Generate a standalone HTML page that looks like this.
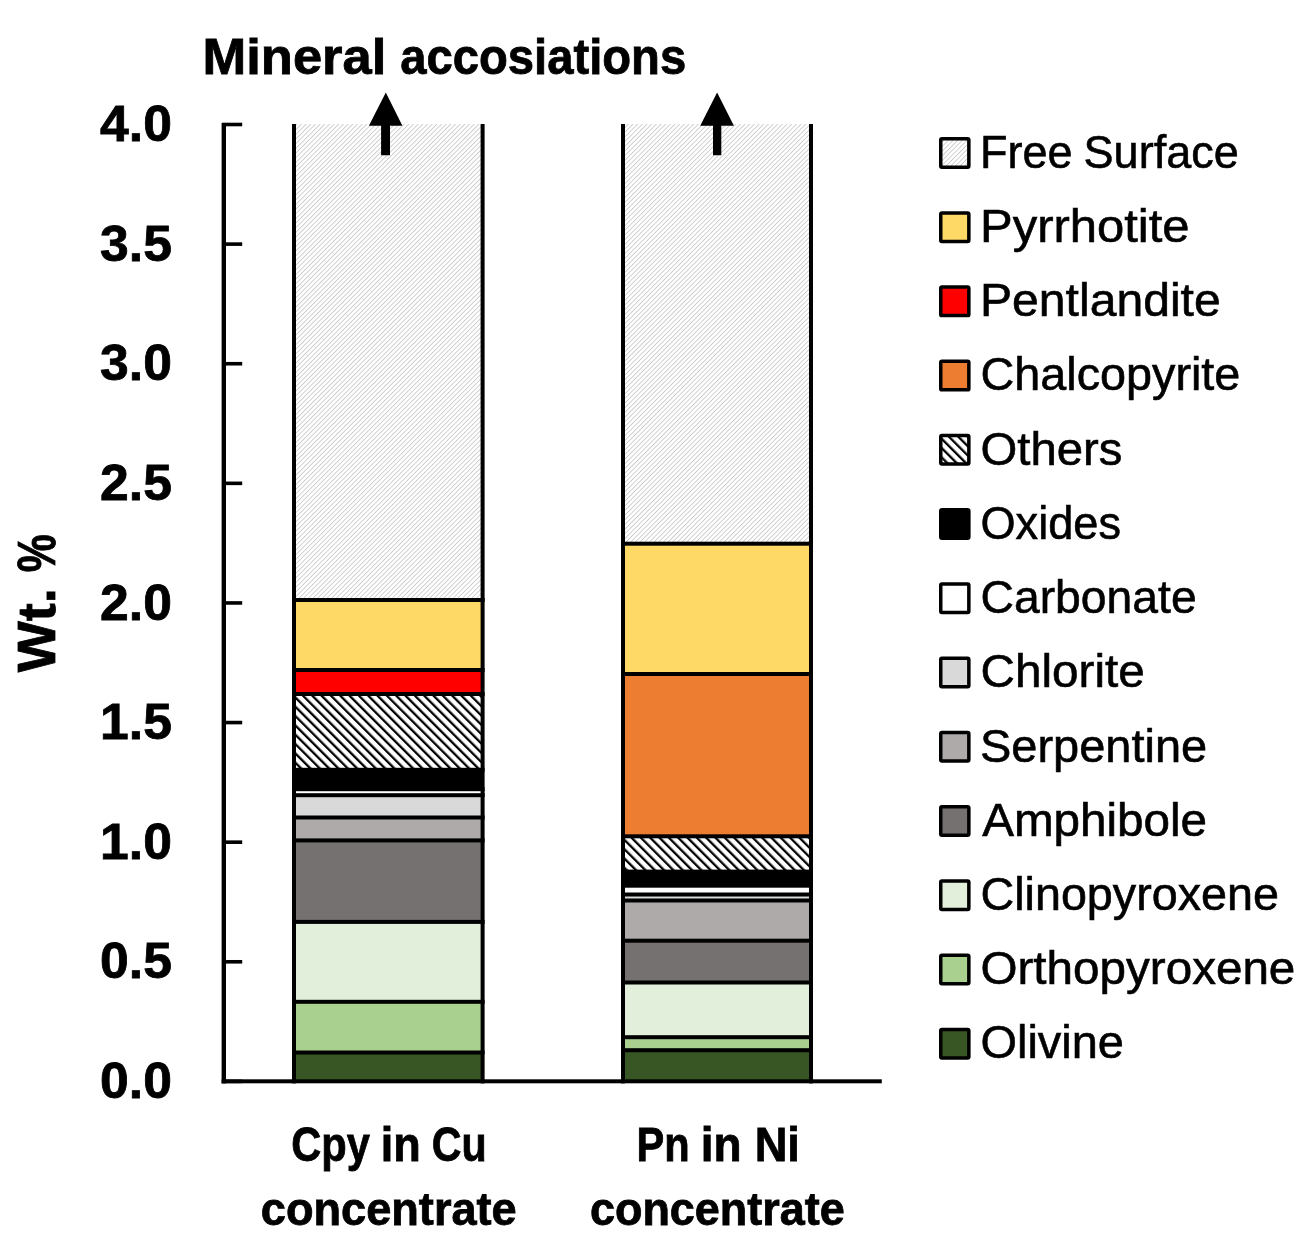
<!DOCTYPE html><html><head><meta charset="utf-8"><title>Mineral associations chart</title><style>html,body{margin:0;padding:0;background:#fff;width:1315px;height:1253px;overflow:hidden}svg{display:block;will-change:transform}text{font-family:"Liberation Sans",sans-serif}</style></head><body>
<svg width="1315" height="1253" viewBox="0 0 1315 1253">
<defs>
<pattern id="fs" patternUnits="userSpaceOnUse" width="3.302" height="10" patternTransform="rotate(45)"><rect width="3.302" height="10" fill="#fff"/><rect x="0" width="0.85" height="10" fill="#cbc8cb"/></pattern>
<pattern id="ot" patternUnits="userSpaceOnUse" width="6.597" height="10" patternTransform="translate(-2.5,0) rotate(-45)"><rect width="6.597" height="10" fill="#fff"/><rect x="0" width="2.3" height="10" fill="#000"/></pattern>
</defs>
<g shape-rendering="auto">
<rect x="294.0" y="124" width="188.60" height="476.00" fill="url(#fs)"/>
<rect x="294.0" y="600" width="188.60" height="70.00" fill="#FFD966"/>
<rect x="294.0" y="670" width="188.60" height="24.00" fill="#FF0000"/>
<rect x="294.0" y="694" width="188.60" height="75.80" fill="url(#ot)"/>
<rect x="294.0" y="769.8" width="188.60" height="19.40" fill="#000"/>
<rect x="294.0" y="789.2" width="188.60" height="6.00" fill="#fff"/>
<rect x="294.0" y="795.2" width="188.60" height="22.30" fill="#D9D9D9"/>
<rect x="294.0" y="817.5" width="188.60" height="22.90" fill="#AEAAAA"/>
<rect x="294.0" y="840.4" width="188.60" height="81.50" fill="#767171"/>
<rect x="294.0" y="921.9" width="188.60" height="79.90" fill="#E2EFDA"/>
<rect x="294.0" y="1001.8" width="188.60" height="50.70" fill="#A9D08E"/>
<rect x="294.0" y="1052.5" width="188.60" height="28.90" fill="#375623"/>
<rect x="292.0" y="598.00" width="192.60" height="4" fill="#000"/>
<rect x="292.0" y="668.00" width="192.60" height="4" fill="#000"/>
<rect x="292.0" y="692.00" width="192.60" height="4" fill="#000"/>
<rect x="292.0" y="767.80" width="192.60" height="4" fill="#000"/>
<rect x="292.0" y="787.20" width="192.60" height="4" fill="#000"/>
<rect x="292.0" y="793.20" width="192.60" height="4" fill="#000"/>
<rect x="292.0" y="815.50" width="192.60" height="4" fill="#000"/>
<rect x="292.0" y="838.40" width="192.60" height="4" fill="#000"/>
<rect x="292.0" y="919.90" width="192.60" height="4" fill="#000"/>
<rect x="292.0" y="999.80" width="192.60" height="4" fill="#000"/>
<rect x="292.0" y="1050.50" width="192.60" height="4" fill="#000"/>
<rect x="292.0" y="124" width="4" height="959.40" fill="#000"/>
<rect x="480.6" y="124" width="4" height="959.40" fill="#000"/>
<rect x="623.0" y="124" width="188.00" height="419.70" fill="url(#fs)"/>
<rect x="623.0" y="543.7" width="188.00" height="130.30" fill="#FFD966"/>
<rect x="623.0" y="674" width="188.00" height="162.30" fill="#ED7D31"/>
<rect x="623.0" y="836.3" width="188.00" height="35.30" fill="url(#ot)"/>
<rect x="623.0" y="871.6" width="188.00" height="14.10" fill="#000"/>
<rect x="623.0" y="885.7" width="188.00" height="8.80" fill="#fff"/>
<rect x="623.0" y="894.5" width="188.00" height="6.00" fill="#D9D9D9"/>
<rect x="623.0" y="900.5" width="188.00" height="40.20" fill="#AEAAAA"/>
<rect x="623.0" y="940.7" width="188.00" height="41.80" fill="#767171"/>
<rect x="623.0" y="982.5" width="188.00" height="54.70" fill="#E2EFDA"/>
<rect x="623.0" y="1037.2" width="188.00" height="13.00" fill="#A9D08E"/>
<rect x="623.0" y="1050.2" width="188.00" height="31.20" fill="#375623"/>
<rect x="621.0" y="541.70" width="192.00" height="4" fill="#000"/>
<rect x="621.0" y="672.00" width="192.00" height="4" fill="#000"/>
<rect x="621.0" y="834.30" width="192.00" height="4" fill="#000"/>
<rect x="621.0" y="869.60" width="192.00" height="4" fill="#000"/>
<rect x="621.0" y="883.70" width="192.00" height="4" fill="#000"/>
<rect x="621.0" y="892.50" width="192.00" height="4" fill="#000"/>
<rect x="621.0" y="898.50" width="192.00" height="4" fill="#000"/>
<rect x="621.0" y="938.70" width="192.00" height="4" fill="#000"/>
<rect x="621.0" y="980.50" width="192.00" height="4" fill="#000"/>
<rect x="621.0" y="1035.20" width="192.00" height="4" fill="#000"/>
<rect x="621.0" y="1048.20" width="192.00" height="4" fill="#000"/>
<rect x="621.0" y="124" width="4" height="959.40" fill="#000"/>
<rect x="809.0" y="124" width="4" height="959.40" fill="#000"/>
</g>
<rect x="221.6" y="123" width="4.4" height="960.4" fill="#000"/>
<rect x="221.6" y="1079.3" width="660.2" height="4" fill="#000"/>
<rect x="222" y="122.70" width="20.2" height="3.6" fill="#000"/>
<rect x="222" y="242.31" width="20.2" height="3.6" fill="#000"/>
<rect x="222" y="361.93" width="20.2" height="3.6" fill="#000"/>
<rect x="222" y="481.54" width="20.2" height="3.6" fill="#000"/>
<rect x="222" y="601.15" width="20.2" height="3.6" fill="#000"/>
<rect x="222" y="720.76" width="20.2" height="3.6" fill="#000"/>
<rect x="222" y="840.38" width="20.2" height="3.6" fill="#000"/>
<rect x="222" y="959.99" width="20.2" height="3.6" fill="#000"/>
<rect x="222" y="1079.60" width="20.2" height="3.6" fill="#000"/>
<text x="171.90" y="141.10" font-size="50.71" font-weight="bold" stroke="#000" stroke-width="0.8" textLength="71.81" lengthAdjust="spacingAndGlyphs" text-anchor="end">4.0</text>
<text x="171.90" y="260.71" font-size="50.71" font-weight="bold" stroke="#000" stroke-width="0.8" textLength="71.81" lengthAdjust="spacingAndGlyphs" text-anchor="end">3.5</text>
<text x="171.90" y="380.33" font-size="50.71" font-weight="bold" stroke="#000" stroke-width="0.8" textLength="71.81" lengthAdjust="spacingAndGlyphs" text-anchor="end">3.0</text>
<text x="171.90" y="499.94" font-size="50.71" font-weight="bold" stroke="#000" stroke-width="0.8" textLength="71.81" lengthAdjust="spacingAndGlyphs" text-anchor="end">2.5</text>
<text x="171.90" y="619.55" font-size="50.71" font-weight="bold" stroke="#000" stroke-width="0.8" textLength="71.81" lengthAdjust="spacingAndGlyphs" text-anchor="end">2.0</text>
<text x="171.90" y="739.16" font-size="50.71" font-weight="bold" stroke="#000" stroke-width="0.8" textLength="71.81" lengthAdjust="spacingAndGlyphs" text-anchor="end">1.5</text>
<text x="171.90" y="858.78" font-size="50.71" font-weight="bold" stroke="#000" stroke-width="0.8" textLength="71.81" lengthAdjust="spacingAndGlyphs" text-anchor="end">1.0</text>
<text x="171.90" y="978.39" font-size="50.71" font-weight="bold" stroke="#000" stroke-width="0.8" textLength="71.81" lengthAdjust="spacingAndGlyphs" text-anchor="end">0.5</text>
<text x="171.90" y="1098.00" font-size="50.71" font-weight="bold" stroke="#000" stroke-width="0.8" textLength="71.81" lengthAdjust="spacingAndGlyphs" text-anchor="end">0.0</text>
<path d="M385.8,92.5 L402.4,125.8 L390.0,125.8 L390.0,155.2 L381.1,155.2 L381.1,125.8 L368.9,125.8 Z" fill="#000"/>
<path d="M717.1,92.5 L733.9,125.8 L721.3,125.8 L721.3,155.2 L713.0,155.2 L713.0,125.8 L700.2,125.8 Z" fill="#000"/>
<g transform="translate(54.60,0) rotate(-90)">
<text x="-672.20" y="0" font-size="54.00" font-weight="bold" stroke="#000" stroke-width="0.8" textLength="84.02" lengthAdjust="spacingAndGlyphs">Wt.</text>
<text x="-572.20" y="0" font-size="54.00" font-weight="bold" stroke="#000" stroke-width="0.8" textLength="37.94" lengthAdjust="spacingAndGlyphs">%</text>
</g>
<text x="202.50" y="74.00" font-size="49.14" font-weight="bold" stroke="#000" stroke-width="0.8" textLength="183.80" lengthAdjust="spacingAndGlyphs">Mineral</text>
<text x="400.20" y="74.00" font-size="49.14" font-weight="bold" stroke="#000" stroke-width="0.8" textLength="286.03" lengthAdjust="spacingAndGlyphs">accosiations</text>
<text x="291.20" y="1161.40" font-size="47.63" font-weight="bold" stroke="#000" stroke-width="0.8" textLength="78.65" lengthAdjust="spacingAndGlyphs">Cpy</text>
<text x="380.70" y="1161.40" font-size="47.63" font-weight="bold" stroke="#000" stroke-width="0.8" textLength="39.98" lengthAdjust="spacingAndGlyphs">in</text>
<text x="431.80" y="1161.40" font-size="47.63" font-weight="bold" stroke="#000" stroke-width="0.8" textLength="54.94" lengthAdjust="spacingAndGlyphs">Cu</text>
<text x="260.80" y="1225.00" font-size="46.63" font-weight="bold" stroke="#000" stroke-width="0.8" textLength="255.94" lengthAdjust="spacingAndGlyphs">concentrate</text>
<text x="636.40" y="1161.40" font-size="47.63" font-weight="bold" stroke="#000" stroke-width="0.8" textLength="53.16" lengthAdjust="spacingAndGlyphs">Pn</text>
<text x="700.80" y="1161.40" font-size="47.63" font-weight="bold" stroke="#000" stroke-width="0.8" textLength="40.82" lengthAdjust="spacingAndGlyphs">in</text>
<text x="754.70" y="1161.40" font-size="47.63" font-weight="bold" stroke="#000" stroke-width="0.8" textLength="45.26" lengthAdjust="spacingAndGlyphs">Ni</text>
<text x="589.90" y="1225.00" font-size="46.63" font-weight="bold" stroke="#000" stroke-width="0.8" textLength="254.94" lengthAdjust="spacingAndGlyphs">concentrate</text>
<text x="979.90" y="167.70" font-size="46.00" stroke="#000" stroke-width="0.6" textLength="92.64" lengthAdjust="spacingAndGlyphs">Free</text>
<text x="1083.60" y="167.70" font-size="46.00" stroke="#000" stroke-width="0.6" textLength="155.12" lengthAdjust="spacingAndGlyphs">Surface</text>
<text x="980.00" y="241.93" font-size="46.00" stroke="#000" stroke-width="0.6" textLength="209.54" lengthAdjust="spacingAndGlyphs">Pyrrhotite</text>
<text x="980.00" y="316.16" font-size="46.00" stroke="#000" stroke-width="0.6" textLength="240.73" lengthAdjust="spacingAndGlyphs">Pentlandite</text>
<text x="980.50" y="390.39" font-size="46.00" stroke="#000" stroke-width="0.6" textLength="259.85" lengthAdjust="spacingAndGlyphs">Chalcopyrite</text>
<text x="980.50" y="464.62" font-size="46.00" stroke="#000" stroke-width="0.6" textLength="141.79" lengthAdjust="spacingAndGlyphs">Others</text>
<text x="980.50" y="538.85" font-size="46.00" stroke="#000" stroke-width="0.6" textLength="140.46" lengthAdjust="spacingAndGlyphs">Oxides</text>
<text x="980.50" y="613.08" font-size="46.00" stroke="#000" stroke-width="0.6" textLength="216.17" lengthAdjust="spacingAndGlyphs">Carbonate</text>
<text x="980.50" y="687.31" font-size="46.00" stroke="#000" stroke-width="0.6" textLength="164.22" lengthAdjust="spacingAndGlyphs">Chlorite</text>
<text x="980.00" y="761.54" font-size="46.00" stroke="#000" stroke-width="0.6" textLength="227.16" lengthAdjust="spacingAndGlyphs">Serpentine</text>
<text x="982.20" y="835.77" font-size="46.00" stroke="#000" stroke-width="0.6" textLength="224.91" lengthAdjust="spacingAndGlyphs">Amphibole</text>
<text x="980.50" y="910.00" font-size="46.00" stroke="#000" stroke-width="0.6" textLength="298.34" lengthAdjust="spacingAndGlyphs">Clinopyroxene</text>
<text x="980.50" y="984.23" font-size="46.00" stroke="#000" stroke-width="0.6" textLength="314.84" lengthAdjust="spacingAndGlyphs">Orthopyroxene</text>
<text x="980.50" y="1058.46" font-size="46.00" stroke="#000" stroke-width="0.6" textLength="143.48" lengthAdjust="spacingAndGlyphs">Olivine</text>
<rect x="940.75" y="138.65" width="28.1" height="28.5" rx="1.2" fill="url(#fs)" stroke="#000" stroke-width="3.5"/>
<rect x="940.75" y="212.88" width="28.1" height="28.5" rx="1.2" fill="#FFD966" stroke="#000" stroke-width="3.5"/>
<rect x="940.75" y="287.11" width="28.1" height="28.5" rx="1.2" fill="#FF0000" stroke="#000" stroke-width="3.5"/>
<rect x="940.75" y="361.34" width="28.1" height="28.5" rx="1.2" fill="#ED7D31" stroke="#000" stroke-width="3.5"/>
<rect x="940.75" y="435.57" width="28.1" height="28.5" rx="1.2" fill="url(#ot)" stroke="#000" stroke-width="3.5"/>
<rect x="940.75" y="509.80" width="28.1" height="28.5" rx="1.2" fill="#000" stroke="#000" stroke-width="3.5"/>
<rect x="940.75" y="584.03" width="28.1" height="28.5" rx="1.2" fill="#fff" stroke="#000" stroke-width="3.5"/>
<rect x="940.75" y="658.26" width="28.1" height="28.5" rx="1.2" fill="#D9D9D9" stroke="#000" stroke-width="3.5"/>
<rect x="940.75" y="732.49" width="28.1" height="28.5" rx="1.2" fill="#AEAAAA" stroke="#000" stroke-width="3.5"/>
<rect x="940.75" y="806.72" width="28.1" height="28.5" rx="1.2" fill="#767171" stroke="#000" stroke-width="3.5"/>
<rect x="940.75" y="880.95" width="28.1" height="28.5" rx="1.2" fill="#E2EFDA" stroke="#000" stroke-width="3.5"/>
<rect x="940.75" y="955.18" width="28.1" height="28.5" rx="1.2" fill="#A9D08E" stroke="#000" stroke-width="3.5"/>
<rect x="940.75" y="1029.41" width="28.1" height="28.5" rx="1.2" fill="#375623" stroke="#000" stroke-width="3.5"/>
</svg></body></html>
